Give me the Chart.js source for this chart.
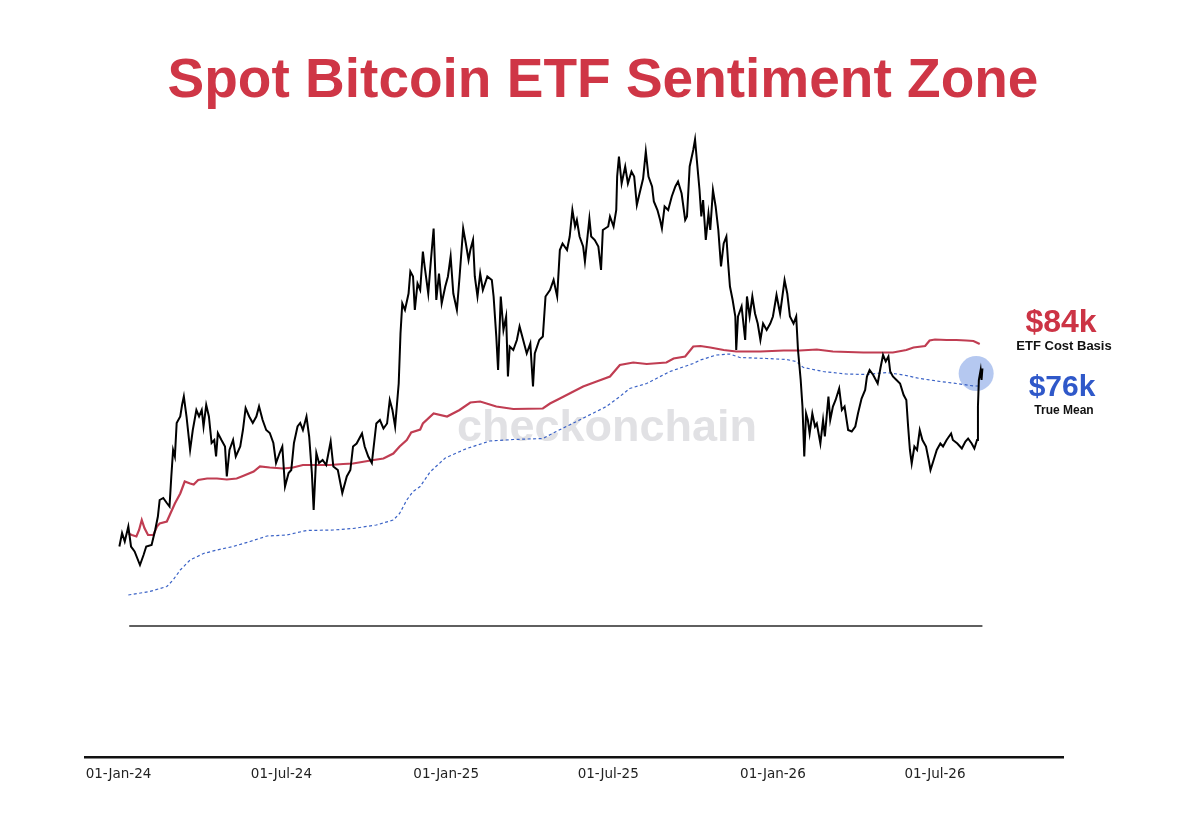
<!DOCTYPE html>
<html>
<head>
<meta charset="utf-8">
<title>Spot Bitcoin ETF Sentiment Zone</title>
<script src="https://cdn.jsdelivr.net/npm/chart.js@4/dist/chart.umd.min.js"></script>
<style>
  html, body { margin: 0; padding: 0; background: #ffffff; }
  #wrap { position: relative; width: 1200px; height: 818px; }
  canvas { display: block; }
</style>
</head>
<body>
<div id="wrap"><canvas id="c" width="1200" height="818"></canvas></div>
<script>
// ---------- DATA (x = days since 01-Jan-2024, values in $k) ----------
const TITLE = 'Spot Bitcoin ETF Sentiment Zone';

const tickDays   = [0, 182, 366, 547, 731, 912];
const tickLabels = ['01-Jan-24', '01-Jul-24', '01-Jan-25', '01-Jul-25', '01-Jan-26', '01-Jul-26'];

const priceDays = [1,4,7,11,14,18,24,28,31,37,41,44,46,50,54,57,59,61,63,65,69,71,73,76,80,83,87,90,93,95,98,101,104,107,109,111,115,119,121,124,128,131,136,139,142,146,150,154,157,161,165,169,173,176,180,183,186,190,193,196,200,203,206,210,213,216,218,221,224,228,232,237,240,245,250,255,259,262,266,272,275,279,283,288,292,296,300,303,306,309,313,315,317,320,324,326,329,331,334,337,340,342,346,349,352,355,358,361,365,368,371,374,378,381,385,388,391,393,396,398,401,404,407,412,417,419,422,424,427,430,433,435,437,441,445,448,451,456,460,463,465,470,474,477,482,486,490,493,496,501,504,507,510,512,515,519,521,526,528,532,536,539,541,547,549,553,556,557,559,562,566,569,573,576,579,582,586,589,592,596,598,602,605,607,610,614,618,622,625,629,633,635,638,642,644,646,649,651,653,656,659,661,664,667,670,673,676,679,681,683,686,689,690,692,696,700,702,705,708,711,714,717,720,724,728,731,735,739,744,747,750,754,757,759,762,764,766,768,770,772,775,778,780,784,787,789,793,795,798,801,805,808,811,815,819,823,826,830,834,836,839,843,848,851,854,857,860,862,865,869,873,877,880,882,884,886,889,892,895,898,902,905,907,910,914,918,921,925,930,932,937,942,946,949,953,956,959,960,961,963,964,965];
const priceK = [43.1,45.8,44.1,47.1,43.1,42.1,39.4,41.4,43.1,43.4,46.4,49.1,52.4,52.8,51.8,51.1,57.1,62.4,61.1,67.8,69.1,71.4,73.1,69.1,62.4,66.4,70.4,69.1,70.4,67.1,71.4,69.1,63.8,64.4,61.1,65.8,64.4,63.1,57.1,62.4,64.4,61.1,63.1,66.4,70.8,69.1,67.8,69.1,71.1,68.4,66.4,65.8,63.8,59.8,61.8,63.1,55.1,57.8,58.4,63.8,67.1,67.8,66.4,69.1,65.1,57.8,50.4,61.8,59.8,60.4,59.4,64.1,59.1,58.4,53.8,57.1,58.4,63.1,63.7,65.7,63.1,61.1,59.8,67.7,68.4,66.7,67.7,72.4,70.4,67.1,75.7,85.7,91.7,90.4,93.7,98.1,97.1,90.4,95.7,94.4,102.1,99.1,93.7,100.4,106.7,92.4,97.7,91.7,95.1,97.1,101.1,93.7,90.4,97.1,106.7,103.7,100.4,102.4,104.4,97.1,93.1,97.7,94.4,97.1,96.4,93.1,85.1,78.4,93.1,86.4,89.1,77.1,83.1,82.4,84.4,87.1,85.1,81.7,83.7,75.1,81.7,84.4,85.1,93.1,94.4,96.4,93.1,102.4,103.7,102.4,105.1,110.4,107.1,108.4,105.1,103.1,100.1,108.7,105.1,104.4,103.1,98.4,106.4,107.1,109.1,107.1,110.4,117.1,121.1,115.7,119.1,115.7,118.1,117.1,111.4,113.7,116.7,122.1,117.1,115.1,112.1,110.4,108.4,106.7,111.1,110.4,113.1,115.1,116.1,113.7,108.4,109.1,119.1,122.4,124.5,120.4,114.4,109.1,112.4,104.4,109.7,106.4,114.4,111.1,106.4,99.1,103.7,105.1,99.7,95.1,92.4,89.1,82.4,89.1,91.1,84.4,93.1,89.1,93.1,89.7,87.7,84.4,87.7,86.4,87.7,89.1,93.4,89.7,96.4,93.7,89.1,87.7,89.1,82.4,76.4,71.1,61.1,69.7,68.4,65.7,69.7,67.1,67.7,63.7,68.4,65.1,73.1,68.4,71.1,72.4,74.7,70.4,71.1,66.4,66.1,67.1,69.7,72.7,74.4,77.1,78.4,77.4,75.7,78.7,81.4,80.1,81.1,78.1,77.1,76.4,75.7,73.4,72.4,67.1,62.4,59.7,63.1,62.4,66.4,64.4,63.1,60.4,58.4,60.1,62.4,63.7,63.1,64.4,65.7,64.4,63.7,62.7,64.1,64.7,63.7,62.7,64.4,71.1,76.4,78.4,76.4,78.7];

const costBasisDays = [11,15,20,23,26,29,33,39,43,46,54,58,63,69,74,80,84,89,99,110,121,132,139,151,158,169,184,195,206,221,236,251,262,285,296,307,314,322,327,337,340,352,367,381,393,404,422,441,474,482,493,506,519,534,549,560,575,590,612,620,633,642,650,661,676,690,717,743,761,780,798,832,865,880,888,901,906,912,925,936,947,955,962];
const costBasisK = [45.7,45.4,45.1,46.4,48.4,46.8,45.4,45.4,47.1,47.7,48.1,49.7,51.7,53.7,56.1,55.7,55.5,56.4,56.7,56.7,56.5,56.7,57.2,58.1,59.1,58.9,58.7,58.9,59.4,59.4,59.4,59.6,59.7,60.4,60.7,61.7,63.1,64.4,65.9,66.5,67.7,69.7,69.1,70.4,71.9,72.1,71.1,70.6,70.7,71.7,72.7,73.9,75.1,76.1,77.1,79.4,79.9,79.6,79.9,80.7,81.1,83.1,83.2,82.9,82.4,82.1,82.1,82.3,82.3,82.5,82.1,81.9,81.9,82.4,82.9,83.2,84.3,84.5,84.4,84.4,84.3,84.2,83.6];

const trueMeanDays = [11,35,54,61,69,80,95,110,128,147,166,188,210,240,262,288,307,314,322,329,337,348,365,389,415,441,474,489,515,545,560,571,590,616,642,650,668,683,694,724,746,757,765,787,813,836,858,877,895,918,936,955,962];
const trueMeanK = [33.4,34.1,35.1,36.4,38.4,40.4,41.7,42.4,43.1,44.1,45.2,45.4,46.3,46.4,46.7,47.4,48.4,49.7,52.4,54.1,55.1,58.0,60.8,62.7,64.2,64.5,64.7,66.1,68.4,71.1,73.1,74.7,75.7,78.1,79.7,80.4,81.4,81.6,80.9,80.7,80.5,80.1,78.9,78.1,77.6,77.5,77.9,77.4,76.7,76.1,75.7,75.2,75.2];

const floorDays = [12, 965];
const floorK = [27.2, 27.2];

const costBasisLabel = '$84k';
const costBasisName  = 'ETF Cost Basis';
const trueMeanLabel  = '$76k';
const trueMeanName   = 'True Mean';
const highlight = { day: 958, k: 77.7 };
const WATERMARK = 'checkonchain';

// ---------- helpers ----------
const pts = (xs, ys) => xs.map((x, i) => ({ x: x, y: ys[i] }));

const annotations = {
  id: 'annotations',
  beforeDatasetsDraw(chart) {
    const ctx = chart.ctx;
    const xs = chart.scales.x, ys = chart.scales.y;
    ctx.save();
    // watermark
    ctx.font = 'bold 45px "Liberation Sans", Arial, sans-serif';
    ctx.fillStyle = 'rgba(205,205,210,0.6)';
    ctx.textAlign = 'center';
    ctx.textBaseline = 'alphabetic';
    ctx.fillText(WATERMARK, 607, 441);
    // highlight circle
    ctx.beginPath();
    ctx.arc(xs.getPixelForValue(highlight.day), ys.getPixelForValue(highlight.k), 17.5, 0, Math.PI * 2);
    ctx.fillStyle = 'rgba(120,155,228,0.55)';
    ctx.fill();
    ctx.restore();
  },
  afterDraw(chart) {
    const ctx = chart.ctx;
    ctx.save();
    ctx.textAlign = 'center';
    ctx.textBaseline = 'alphabetic';
    // title
    ctx.font = 'bold 55px "Liberation Sans", Arial, sans-serif';
    ctx.fillStyle = '#cf3646';
    ctx.fillText(TITLE, 603, 97);
    // right labels
    ctx.font = 'bold 32px "Liberation Sans", Arial, sans-serif';
    ctx.fillStyle = '#cc3445';
    ctx.fillText(costBasisLabel, 1061, 332);
    ctx.font = 'bold 13px "Liberation Sans", Arial, sans-serif';
    ctx.fillStyle = '#111111';
    ctx.fillText(costBasisName, 1064, 350);
    ctx.font = 'bold 30px "Liberation Sans", Arial, sans-serif';
    ctx.fillStyle = '#2f58c9';
    ctx.fillText(trueMeanLabel, 1062, 396);
    ctx.font = 'bold 12px "Liberation Sans", Arial, sans-serif';
    ctx.fillStyle = '#111111';
    ctx.fillText(trueMeanName, 1064, 414);
    ctx.restore();
  }
};

new Chart(document.getElementById('c'), {
  type: 'line',
  data: {
    datasets: [
      { label: 'Floor', data: pts(floorDays, floorK), borderColor: '#2a2a2a', borderWidth: 1.5, pointRadius: 0, order: 4 },
      { label: 'True Mean', data: pts(trueMeanDays, trueMeanK), borderColor: '#3a62c6', borderWidth: 1.2, borderDash: [3, 2.5], pointRadius: 0, order: 3 },
      { label: 'ETF Cost Basis', data: pts(costBasisDays, costBasisK), borderColor: '#c03d52', borderWidth: 2.2, pointRadius: 0, order: 2 },
      { label: 'BTC Price', data: pts(priceDays, priceK), borderColor: '#000000', borderWidth: 2, pointRadius: 0, order: 1 }
    ]
  },
  options: {
    responsive: false,
    animation: false,
    devicePixelRatio: 1,
    layout: { padding: { left: 85, right: 137, top: 107, bottom: 0 } },
    plugins: { legend: { display: false }, tooltip: { enabled: false }, title: { display: false } },
    scales: {
      x: {
        type: 'linear',
        min: -37.4,
        max: 1055,
        afterBuildTicks: (scale) => { scale.ticks = tickDays.map(v => ({ value: v })); },
        afterFit: (scale) => { scale.height = 61; },
        grid: { display: false, drawTicks: false },
        border: { display: true, color: '#111111', width: 2.5 },
        ticks: {
          autoSkip: false,
          maxRotation: 0,
          padding: 9,
          color: '#222222',
          font: { family: '"DejaVu Sans", Verdana, sans-serif', size: 13.5 },
          callback: (v) => { const i = tickDays.indexOf(v); return i >= 0 ? tickLabels[i] : ''; }
        }
      },
      y: {
        type: 'linear',
        display: false,
        min: 1,
        max: 131
      }
    }
  },
  plugins: [annotations]
});
</script>
</body>
</html>
